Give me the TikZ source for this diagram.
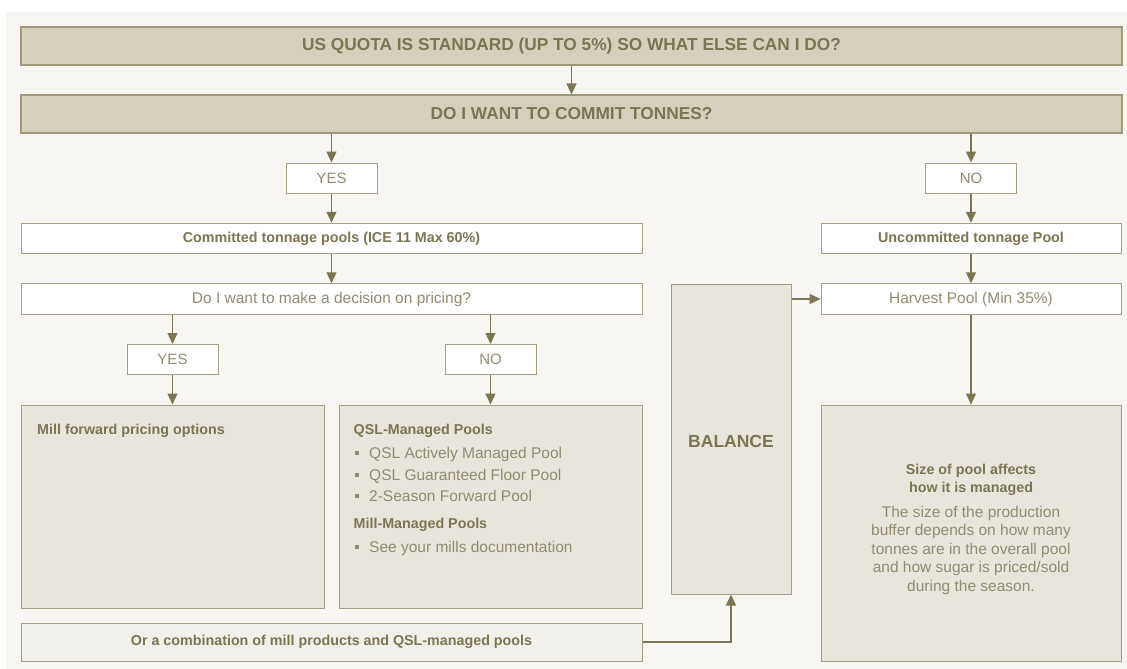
\documentclass[tikz,border=0pt]{standalone}
\usepackage{fontspec}
\setmainfont{Liberation Sans}
\usetikzlibrary{arrows.meta}
\definecolor{panel}{HTML}{F7F6F3}
\definecolor{barfill}{HTML}{D5CFBE}
\definecolor{barline}{HTML}{9E977A}
\definecolor{boxfill}{HTML}{E8E5DD}
\definecolor{combofill}{HTML}{F2F0EB}
\definecolor{boxline}{HTML}{A49E84}
\definecolor{ink}{HTML}{7C7554}
\definecolor{softink}{HTML}{918B72}
\newcommand{\qbullet}{\hspace*{1.5pt}\rule[3.5pt]{4pt}{4pt}\hspace{10pt}}

\begin{document}
\begin{tikzpicture}[x=1pt,y=-1pt,
  bar/.style={draw=barline,line width=1.2pt,fill=barfill,minimum width=1101pt,
    minimum height=38pt,inner sep=0pt,text=ink,font=\fontsize{17.3}{20}\selectfont\bfseries},
  tag/.style={draw=boxline,line width=1pt,fill=white,minimum width=91pt,
    minimum height=30pt,inner sep=0pt,text=softink,font=\fontsize{15}{18}\selectfont},
  wide/.style={draw=boxline,line width=1pt,fill=white,minimum height=30.5pt,
    inner sep=0pt,text=softink,font=\fontsize{15.5}{18}\selectfont},
  hard/.style={text=ink,font=\fontsize{14.3}{18}\selectfont\bfseries},
  bigbox/.style={draw=boxline,line width=1pt,fill=boxfill,inner sep=0pt},
  head/.style={inner sep=0pt,text=ink,font=\fontsize{14.3}{18}\selectfont\bfseries},
  item/.style={inner sep=0pt,text=softink,font=\fontsize{15.5}{18.5}\selectfont},
  arr/.style={draw=ink,line width=1.3pt,-{Triangle[width=10pt,length=11pt]}}]

  % page and panel
  \fill[white] (0,0) rectangle (1127,669);
  \useasboundingbox (0,0) rectangle (1127,669);
  \fill[panel] (6,12) rectangle (1127,669);

  % top questions
  \node[bar] (quota) at (571.5,46) {US QUOTA IS STANDARD (UP TO 5\%) SO WHAT ELSE CAN I DO?};
  \node[bar] (commit) at (571.5,114) {DO I WANT TO COMMIT TONNES?};

  \node[tag] (yesa) at (331.5,178) {YES};
  \node[tag] (noa) at (971,178) {NO};

  \node[wide,hard,minimum width=621pt] (pools) at (331.5,238.5) {Committed tonnage pools (ICE 11 Max 60\%)};
  \node[wide,hard,minimum width=300pt] (uncom) at (971,238.5) {Uncommitted tonnage Pool};
  \node[wide,minimum width=621pt] (ask) at (331.5,299) {Do I want to make a decision on pricing?};
  \node[wide,minimum width=300pt] (harvest) at (971,299) {Harvest Pool (Min 35\%)};

  \node[tag] (yesb) at (172.5,359.5) {YES};
  \node[tag] (nob) at (490.5,359.5) {NO};

  % big boxes
  \node[bigbox,minimum width=303pt,minimum height=203pt] (mill) at (172.5,506.5) {};
  \node[bigbox,minimum width=303pt,minimum height=203pt] (qsl) at (490.5,506.5) {};
  \node[bigbox,minimum width=120pt,minimum height=310pt] (balance) at (731,439) {};
  \node[bigbox,minimum width=300pt,minimum height=256pt] (sizebox) at (971,533) {};
  \node[bigbox,fill=combofill,hard,minimum width=621pt,minimum height=38pt] (mix) at (331.5,642)
    {Or a combination of mill products and QSL-managed pools};

  % texts in the boxes
  \node[head,anchor=base west] (millhead) at (37,434) {Mill forward pricing options};

  \node[head,anchor=base west] (qslhead) at (353.5,434) {QSL-Managed Pools};
  \node[item,anchor=base west] (qslone) at (353.5,458) {\qbullet QSL Actively Managed Pool};
  \node[item,anchor=base west] (qsltwo) at (353.5,480) {\qbullet QSL Guaranteed Floor Pool};
  \node[item,anchor=base west] (qslthree) at (353.5,501) {\qbullet 2-Season Forward Pool};
  \node[head,anchor=base west] (millmhead) at (353.5,528) {Mill-Managed Pools};
  \node[item,anchor=base west] (millmone) at (353.5,552) {\qbullet See your mills documentation};

  \node[head,anchor=base,font=\fontsize{17.5}{20}\selectfont\bfseries] (baltext) at (731,447) {BALANCE};

  \node[head,anchor=north,align=center] (sizehead) at (971,463.5) {Size of pool affects\\how it is managed};
  \node[item,anchor=north,align=center] (sizetext) at (971,505.7)
    {The size of the production\\buffer depends on how many\\tonnes are in the overall pool\\and how sugar is priced/sold\\during the season.};

  % connectors
  \draw[arr] (quota) -- (commit);
  \draw[arr] (commit.south -| yesa) -- (yesa);
  \draw[arr] (commit.south -| noa) -- (noa);
  \draw[arr] (yesa) -- (pools);
  \draw[arr] (noa) -- (uncom);
  \draw[arr] (pools) -- (ask);
  \draw[arr] (uncom) -- (harvest);
  \draw[arr] (ask.south -| yesb) -- (yesb);
  \draw[arr] (ask.south -| nob) -- (nob);
  \draw[arr] (yesb) -- (mill);
  \draw[arr] (nob) -- (qsl);
  \draw[arr] (harvest) -- (sizebox);
  \draw[arr] (balance.east |- harvest) -- (harvest);
  \draw[arr] (mix.east) -| (balance.south);
\end{tikzpicture}
\end{document}
